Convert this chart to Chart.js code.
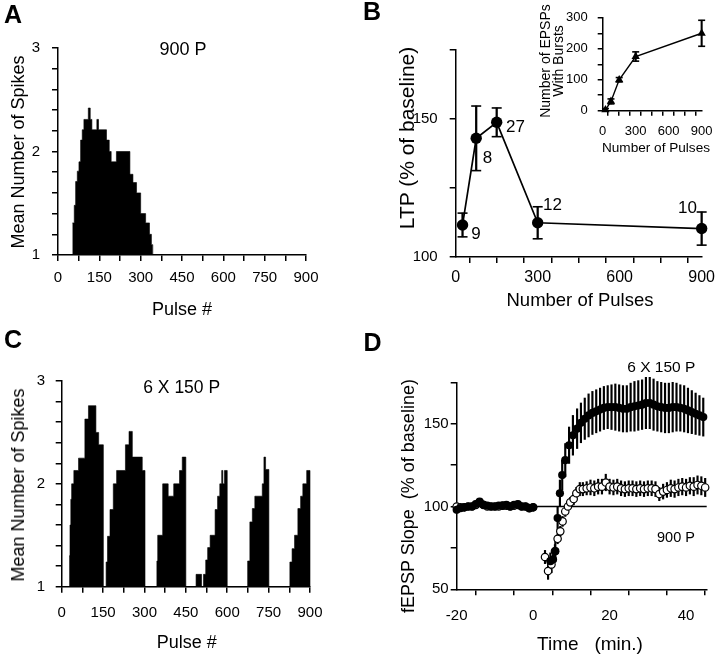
<!DOCTYPE html>
<html lang="en">
<head>
<meta charset="UTF-8">
<title>Spikes per pulse, LTP and fEPSP slope</title>
<script src="https://cdn.jsdelivr.net/npm/chart.js"></script>
<style>
    body {
        margin: 0;
        background: #fff;
    }

    #fig {
        position: relative;
        width: 720px;
        height: 658px;
        overflow: hidden;
        font-family: "Liberation Sans", Arial, sans-serif;
        color: #000;
    }

    #fig canvas {
        position: absolute;
    }

    .t {
        position: absolute;
        transform: translate(-50%, -50%);
        white-space: pre;
        line-height: 1;
        text-align: center;
    }

    .r {
        transform: translate(-50%, -50%) rotate(-90deg);
    }

    .letter {
        font-weight: bold;
        font-size: 25px;
    }
</style>
</head>
<body>
<div id="fig">
    <canvas id="chartA" width="360" height="320" style="left:0;top:0"></canvas>
    <canvas id="chartB" width="360" height="320" style="left:360px;top:0"></canvas>
    <canvas id="chartInset" width="190" height="160" style="left:530px;top:0"></canvas>
    <canvas id="chartC" width="360" height="338" style="left:0;top:320px"></canvas>
    <canvas id="chartD" width="360" height="338" style="left:360px;top:320px"></canvas>

    <!-- A -->
    <div class="t letter" style="left:13px;top:14px">A</div>
    <div class="t" style="left:183px;top:49px;font-size:18px">900 P</div>
    <div class="t r" style="left:17.5px;top:151.5px;font-size:18px">Mean Number of Spikes</div>
    <div class="t" style="left:182px;top:308.5px;font-size:18px">Pulse #</div>

    <!-- B -->
    <div class="t letter" style="left:372px;top:11px">B</div>
    <div class="t r" style="left:406px;top:138px;font-size:21px">LTP (% of baseline)</div>
    <div class="t" style="left:580px;top:300px;font-size:18.5px">Number of Pulses</div>
    <div class="t" style="left:476px;top:232.5px;font-size:17px">9</div>
    <div class="t" style="left:487.5px;top:157px;font-size:17px">8</div>
    <div class="t" style="left:515.5px;top:126px;font-size:17px">27</div>
    <div class="t" style="left:552.5px;top:204px;font-size:17px">12</div>
    <div class="t" style="left:687.5px;top:207px;font-size:17px">10</div>
    <div class="t r" style="left:551.5px;top:61px;font-size:14px;line-height:13px">Number of EPSPs
With Bursts</div>
    <div class="t" style="left:656px;top:147.5px;font-size:13.6px">Number of Pulses</div>

    <!-- C -->
    <div class="t letter" style="left:13px;top:339px">C</div>
    <div class="t" style="left:181.7px;top:387.5px;font-size:17.5px">6 X 150 P</div>
    <div class="t r" style="left:17.5px;top:485px;font-size:18px">Mean Number of Spikes</div>
    <div class="t" style="left:186.7px;top:641.7px;font-size:18px">Pulse #</div>

    <!-- D -->
    <div class="t letter" style="left:372.5px;top:341.7px">D</div>
    <div class="t" style="left:661.3px;top:367.2px;font-size:15.5px">6 X 150 P</div>
    <div class="t" style="left:676px;top:537px;font-size:14.5px">900 P</div>
    <div class="t r" style="left:408px;top:496px;font-size:18px">fEPSP Slope  (% of baseline)</div>
    <div class="t" style="left:590px;top:643px;font-size:19px">Time   (min.)</div>
</div>

<script>
    // A: spikes per pulse, one 900 pulse train (bin start, height; last = closing edge)
    const aPulse = [52, 59, 64, 70, 76, 82, 88, 94, 110, 117, 123, 141, 147, 176, 186, 193, 212,
        261, 272, 285, 300, 318, 332, 339, 344];
    const aSpikes = [1.31, 1.48, 1.71, 1.81, 1.90, 2.11, 2.21, 2.31, 2.42, 2.31, 2.21, 2.31, 2.21, 2.11, 2.0, 1.90, 2.0,
        1.78, 1.70, 1.60, 1.40, 1.31, 1.20, 1.10, 1];

    // C: spikes per pulse, 6 x 150 pulses
    const cPulse = [27, 30, 33, 36, 44, 61, 84, 97, 124, 134, 151,
        161, 166, 175, 187, 199, 231, 244, 256, 292, 302,
        345, 348, 366, 386, 406, 427, 437, 450,
        487, 507,
        514, 522, 529, 538, 556, 565, 573, 580, 584, 590, 600,
        674, 682, 691, 700, 727, 733, 739, 751,
        827, 835, 844, 856, 866, 874, 888, 900];
    const cSpikes = [1.3, 1.6, 1.85, 2.0, 2.13, 2.25, 2.63, 2.76, 2.50, 2.38, 1,
        1.24, 1.49, 1.75, 2.0, 2.13, 2.38, 2.51, 2.26, 2.13, 1,
        1.25, 1.50, 2.0, 1.88, 2.0, 2.13, 2.26, 1,
        1.12, 1,
        1.12, 1.26, 1.38, 1.50, 1.75, 1.88, 2.0, 2.13, 2.0, 2.13, 1,
        1.25, 1.63, 1.76, 1.88, 2.0, 2.26, 2.14, 1,
        1.24, 1.37, 1.50, 1.76, 1.88, 2.0, 2.13, 1];

    // B: LTP vs number of pulses
    const bPulses = [25, 75, 150, 300, 900];
    const bLtp = [111.6, 143, 148.8, 112.4, 110.3];
    const bSem = [4.3, 11.7, 5.2, 5.8, 6];

    // B inset: EPSPs with bursts
    const insetPulses = [25, 75, 150, 300, 900];
    const insetBursts = [3, 30, 100, 175, 250];
    const insetSem = [4, 8, 7, 15, 42];

    // D: fEPSP slope over time
    const dTimeBase = [-20, -19, -18, -17, -16, -15, -14, -13, -12, -11, -10, -9, -8, -7, -6, -5, -4, -3, -2, -1, 0];
    const dFilledBase = [98, 99, 99.5, 100, 100, 101.5, 103, 101, 100.5, 100, 100, 100.5, 100.5, 101, 100, 101,
        101.5, 100, 100, 99, 99.5];
    const dOpenBase = [100, 99.5, 99.5, 100, 100, 101, 102.5, 101, 100, 100, 100, 100, 100.5, 100.5, 100, 100.5,
        101, 100, 100, 99, 99.5];

    const dTimeFilled = [4.5, 5.2, 5.8, 6.4, 7.0, 7.6, 8.4, 9.4, 10.4, 11.5, 12.5, 13.5, 14.5, 15.5, 16.5, 17.5,
        18.5, 19.5, 20.5, 21.5, 22.5, 23.5, 24.5, 25.5, 26.5, 27.5, 28.5, 29.5, 30.5, 31.5, 32.5, 33.5, 34.5,
        35.5, 36.5, 37.5, 38.5, 39.5, 40.5, 41.5, 42.5, 43.5, 44.5];
    const dFilled = [67, 68, 73, 93, 108, 119, 128, 137, 143, 147, 150.5, 153, 155, 156.5, 157.5, 158.5, 159.5,
        160, 160, 160, 159.5, 159, 159, 160, 160.5, 161, 161.5, 162.5, 162.5, 161.5, 160.5, 160, 159.5, 159.5,
        160, 160, 159.5, 159, 158, 157, 156, 155, 154];
    const dFilledSem = [5, 5, 6, 7, 8, 9, 10, 11, 12, 12, 12, 12.5, 13, 13, 13, 13, 13, 13, 13.5, 14, 14, 14, 14,
        14.5, 15, 15, 15, 15.5, 15.5, 15.5, 15, 15, 15, 15, 15, 14.5, 14, 14, 13.5, 13, 12.5, 12, 11.5];

    const dTimeOpen = [3.1, 3.9, 4.8, 5.7, 6.4, 7.1, 7.7, 8.4, 9.1, 9.7, 10.6, 11.3, 12.2, 13, 14, 15, 16, 17, 18,
        19, 20, 21, 22, 23, 24, 25, 26, 27, 28, 29, 30, 31, 32, 33, 34, 35, 36, 37, 38, 39, 40, 41, 42, 43, 44, 45];
    const dOpen = [69.5, 61, 65, 73, 80.5, 85, 91, 97, 100, 102.5, 104.5, 108, 110.5,
        110.5, 111, 111.5, 111, 112, 112, 114.5, 112, 111.5, 112, 111, 110.5, 111, 111, 110.5, 111, 110.5, 111,
        111, 110.5, 107.5, 109, 110, 111, 110.5, 111.5, 112, 111.5, 112.5, 112, 113, 112.5, 111.5];
    const dOpenSem = [4, 5, 5, 4, 3, 3, 3, 3, 3, 3, 3.5, 3.5, 4,
        4, 4, 4.5, 4.5, 4.5, 4.5, 5, 4.5, 4.5, 4.5, 4.5, 4.5, 4.5, 4.5, 4.5, 4.5, 4.5, 4.5, 4.5, 4.5, 4, 4.5, 4.5,
        5, 5, 5, 5, 5, 5, 5.5, 5.5, 5.5, 5.5, 5.5];

    const dRefTime = [-20, 45.4];
    const dRefSlope = [100, 100];

    const FONT = '"Liberation Sans", Arial, sans-serif';

    const pts = (xs, ys) => xs.map((x, i) => ({x: x, y: ys[i]}));

    // axis with outward ticks every `step`, a label every `every`
    function axis(min, max, step, every, o) {
        return {
            type: 'linear',
            min: min,
            max: max,
            offset: false,
            grid: {drawOnChartArea: false, drawTicks: true, tickLength: o.tick || 6, color: '#000', lineWidth: 1.5},
            border: {color: '#000', width: 1.5},
            ticks: {
                stepSize: step,
                includeBounds: false,
                autoSkip: false,
                maxRotation: 0,
                color: '#000',
                padding: o.pad,
                font: {family: FONT, size: o.size},
                callback: v => Math.abs(v / every - Math.round(v / every)) < 1e-6 ? String(Math.round(v)) : ''
            },
            afterFit: s => {
                if (o.w != null) s.width = o.w;
                if (o.h != null) s.height = o.h;
            }
        };
    }

    function histogram(xs, ys) {
        return {
            type: 'line', data: pts(xs, ys), stepped: true, fill: {value: 1},
            backgroundColor: '#000', borderColor: '#000', borderWidth: 0.6, pointRadius: 0, clip: false
        };
    }

    // one floating-bar dataset per chart holding every error bar: [[xs, ys, sems], ...]
    function errorBars(series, w) {
        const data = [];
        series.forEach(([xs, ys, es]) => xs.forEach((x, i) => data.push({x: x, y: [ys[i] - es[i], ys[i] + es[i]]})));
        return {type: 'bar', data: data, backgroundColor: '#000', barThickness: w, clip: false};
    }

    function caps(xs, ys, es, r) {
        const data = [];
        xs.forEach((x, i) => data.push({x: x, y: ys[i] - es[i]}, {x: x, y: ys[i] + es[i]}));
        return {
            type: 'scatter', data: data, pointStyle: 'line', pointRadius: r,
            borderColor: '#000', pointBorderColor: '#000', borderWidth: 1.6, pointBorderWidth: 1.6, clip: false
        };
    }

    function markers(xs, ys, o) {
        return {
            type: 'scatter', data: pts(xs, ys), pointStyle: o.style || 'circle', pointRadius: o.r,
            pointBackgroundColor: o.fill || '#000', pointBorderColor: '#000', pointBorderWidth: o.bw || 0,
            showLine: !!o.line, borderColor: '#000', borderWidth: o.line || 0, clip: false
        };
    }

    function makeChart(id, datasets, x, y, pad) {
        return new Chart(document.getElementById(id), {
            type: 'scatter',
            data: {datasets: datasets},
            options: {
                responsive: false,
                animation: false,
                devicePixelRatio: 1,
                events: [],
                layout: {autoPadding: false, padding: pad},
                plugins: {legend: {display: false}, tooltip: {enabled: false}},
                scales: {x: x, y: y}
            }
        });
    }

    // A
    makeChart('chartA', [histogram(aPulse, aSpikes)],
        axis(0, 900, 75, 150, {size: 15, pad: 8, h: 65}),
        axis(1, 3, 0.2, 1, {size: 15, pad: 12, w: 58}),
        {left: 0, top: 48, right: 54, bottom: 0});

    // C
    makeChart('chartC', [histogram(cPulse, cSpikes)],
        axis(0, 900, 75, 150, {size: 15, pad: 11.5, h: 71.3}),
        axis(1, 3, 0.2, 1, {size: 15, pad: 10.7, w: 61.7}),
        {left: 0, top: 61, right: 50, bottom: 0});

    // B
    makeChart('chartB', [
            markers(bPulses, bLtp, {r: 5.7, line: 1.7}),
            caps(bPulses, bLtp, bSem, 5),
            errorBars([[bPulses, bLtp, bSem]], 1.6)
        ],
        axis(0, 900, 100, 300, {size: 16, pad: 5, h: 63}),
        axis(100, 175, 25, 50, {size: 15, pad: 12, w: 95.7}),
        {left: 0, top: 50, right: 16.7, bottom: 0});

    // B inset
    makeChart('chartInset', [
            markers(insetPulses, insetBursts, {r: 4.8, style: 'triangle', line: 1.4}),
            caps(insetPulses, insetBursts, insetSem, 3.5),
            errorBars([[insetPulses, insetBursts, insetSem]], 1.4)
        ],
        axis(0, 900, 100, 300, {size: 13, pad: 7.5, h: 49.3, tick: 5}),
        axis(0, 300, 50, 100, {size: 13, pad: 10, w: 72.7, tick: 5}),
        {left: 0, top: 11, right: 17.3, bottom: 0});

    // D
    makeChart('chartD', [
            markers(dTimeBase, dFilledBase, {r: 4.1}),
            markers(dTimeFilled, dFilled, {r: 4.1}),
            markers(dTimeBase, dOpenBase, {r: 3.7, fill: '#fff', bw: 1.2}),
            markers(dTimeOpen, dOpen, {r: 3.7, fill: '#fff', bw: 1.2}),
            errorBars([[dTimeFilled, dFilled, dFilledSem], [dTimeOpen, dOpen, dOpenSem]], 1.5),
            {type: 'line', data: pts(dRefTime, dRefSlope), borderColor: '#000', borderWidth: 1.3, pointRadius: 0, clip: false}
        ],
        axis(-20, 45.4, 10, 20, {size: 15, pad: 11.5, h: 68.7}),
        axis(50, 175, 25, 50, {size: 15, pad: 2, w: 96.7}),
        {left: 0, top: 62.3, right: 13.3, bottom: 0});
</script>
</body>
</html>
